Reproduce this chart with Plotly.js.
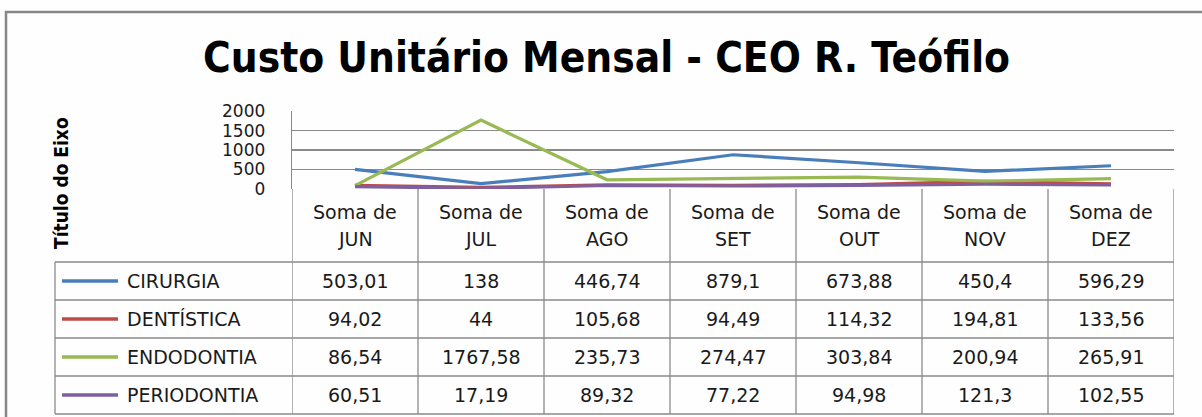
<!DOCTYPE html>
<html>
<head>
<meta charset="utf-8">
<script src="https://cdn.plot.ly/plotly-3.0.1.min.js"></script>
<style>
html,body{margin:0;padding:0;background:#fefefe;}
#chart{width:1202px;height:417px;}
</style>
</head>
<body>
<div id="chart"></div>
<script>
// ---- data ----
const months = ["JUN", "JUL", "AGO", "SET", "OUT", "NOV", "DEZ"];
const headerPrefix = "Soma de";
const seriesNames = ["CIRURGIA", "DENTÍSTICA", "ENDODONTIA", "PERIODONTIA"];
const cirurgia    = [503.01, 138, 446.74, 879.1, 673.88, 450.4, 596.29];
const dentistica  = [94.02, 44, 105.68, 94.49, 114.32, 194.81, 133.56];
const endodontia  = [86.54, 1767.58, 235.73, 274.47, 303.84, 200.94, 265.91];
const periodontia = [60.51, 17.19, 89.32, 77.22, 94.98, 121.3, 102.55];
const yTicks = [0, 500, 1000, 1500, 2000];
const seriesColors = ["#4a7ebb", "#be4b48", "#98b954", "#7d60a0"];
const chartTitle = "Custo Unitário Mensal - CEO R. Teófilo";
const yTitle = "Título do Eixo";

// ---- layout helpers ----
const W = 1202, H = 417;
const px = v => v / W;
const py = v => 1 - v / H;
const plotL = 292, plotR = 1174, plotT = 111, plotB = 189;
const tableL = 55, headerB = 262, rowH = 38;
const gray = "#8a8a8a";
const txtFont = "DejaVu Sans, Verdana, sans-serif";
const narrow = "Liberation Sans Narrow, DejaVu Sans Condensed, Arial Narrow, sans-serif";

const allSeries = [cirurgia, dentistica, endodontia, periodontia];
const fmt = v => String(v).replace(".", ",");

const traces = allSeries.map((vals, i) => ({
  type: "scatter", mode: "lines",
  x: months, y: vals, name: seriesNames[i],
  line: {color: seriesColors[i], width: 3.2},
  hoverinfo: "skip", showlegend: false
}));

const shapes = [];
const annotations = [];

// outer chart border
shapes.push({type: "rect", xref: "paper", yref: "paper",
  x0: px(6), x1: px(1230), y0: py(12), y1: py(440),
  line: {color: "#878787", width: 2.5}});

// table vertical lines (category boundaries)
for (let i = 0; i <= months.length; i++) {
  shapes.push({type: "line", xref: "x", yref: "paper",
    x0: i - 0.5, x1: i - 0.5, y0: py(plotB), y1: py(headerB + rowH * seriesNames.length),
    line: {color: gray, width: 1.3}});
}
// table left border
shapes.push({type: "line", xref: "paper", yref: "paper",
  x0: px(tableL), x1: px(tableL), y0: py(headerB), y1: py(headerB + rowH * seriesNames.length),
  line: {color: gray, width: 1.3}});
// table horizontal lines
for (let r = 0; r <= seriesNames.length; r++) {
  const yy = headerB + r * rowH;
  shapes.push({type: "line", xref: "paper", yref: "paper",
    x0: px(tableL), x1: px(plotR), y0: py(yy), y1: py(yy),
    line: {color: gray, width: 1.3}});
}

// header texts
months.forEach((m, i) => {
  annotations.push({xref: "x", yref: "paper", x: m, y: py(212), text: headerPrefix,
    showarrow: false, font: {family: txtFont, size: 19, color: "#1a1a1a"}, xanchor: "center", yanchor: "middle"});
  annotations.push({xref: "x", yref: "paper", x: m, y: py(239), text: m,
    showarrow: false, font: {family: txtFont, size: 19, color: "#1a1a1a"}, xanchor: "center", yanchor: "middle"});
});

// rows
seriesNames.forEach((name, r) => {
  const cy = headerB + r * rowH + rowH / 2;
  shapes.push({type: "line", xref: "paper", yref: "paper",
    x0: px(62), x1: px(118), y0: py(cy), y1: py(cy),
    line: {color: seriesColors[r], width: 3.5}});
  annotations.push({xref: "paper", yref: "paper", x: px(125), y: py(cy), text: name,
    showarrow: false, font: {family: txtFont, size: 19, color: "#1a1a1a"}, xanchor: "left", yanchor: "middle"});
  allSeries[r].forEach((v, i) => {
    annotations.push({xref: "x", yref: "paper", x: months[i], y: py(cy), text: fmt(v),
      showarrow: false, font: {family: txtFont, size: 19, color: "#1a1a1a"}, xanchor: "center", yanchor: "middle"});
  });
});

// y axis title
annotations.push({xref: "paper", yref: "paper", x: px(61), y: py(183), text: "<b>" + yTitle + "</b>",
  textangle: -90, showarrow: false, font: {family: narrow, size: 19, color: "#000"},
  xanchor: "center", yanchor: "middle"});

// chart title
annotations.push({xref: "paper", yref: "paper", x: px(606), y: py(57), text: "<b>" + chartTitle + "</b>",
  showarrow: false, font: {family: narrow, size: 42, color: "#000"},
  xanchor: "center", yanchor: "middle"});

const layout = {
  width: W, height: H,
  margin: {l: 0, r: 0, t: 0, b: 0},
  paper_bgcolor: "#fefefe", plot_bgcolor: "rgba(0,0,0,0)",
  showlegend: false,
  xaxis: {type: "category", domain: [px(plotL), px(plotR)], range: [-0.5, months.length - 0.5],
    showticklabels: false, showgrid: false, zeroline: false, showline: false, ticks: "", fixedrange: true},
  yaxis: {domain: [py(plotB), py(plotT)], range: [0, 2002], tickvals: yTicks,
    showgrid: true, gridcolor: gray, gridwidth: 1.3, zeroline: false,
    showline: true, linecolor: gray, linewidth: 1.3,
    ticks: "outside", ticklen: 22, tickcolor: "rgba(0,0,0,0)",
    tickfont: {family: txtFont, size: 17, color: "#1a1a1a"}, fixedrange: true},
  shapes: shapes,
  annotations: annotations
};

Plotly.newPlot("chart", traces, layout, {displayModeBar: false, staticPlot: true});
</script>
</body>
</html>
